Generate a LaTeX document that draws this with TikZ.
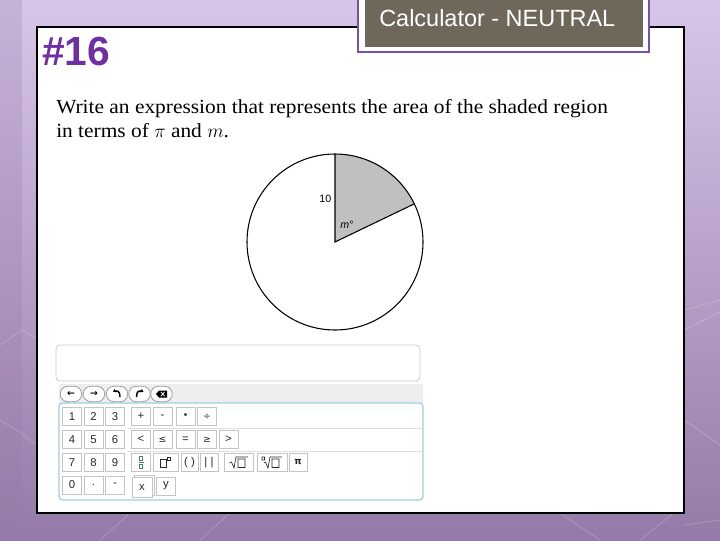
\documentclass[tikz,border=0pt]{standalone}
\usepackage{fontspec}
\setmainfont{Liberation Serif}
\newfontfamily\qfont[FakeStretch=1.07]{Liberation Serif}
\newfontfamily\arialf{Liberation Sans}
\newfontfamily\dejavuf{DejaVu Sans}
\usetikzlibrary{arrows.meta}
\definecolor{bgtop}{RGB}{216,198,232}
\definecolor{bgbot}{RGB}{148,122,168}
\definecolor{titlepurple}{RGB}{110,48,160}
\definecolor{calcborder}{RGB}{122,80,160}
\definecolor{calcgray}{RGB}{111,103,90}
\definecolor{sectorgray}{RGB}{192,192,192}
\definecolor{keygray}{RGB}{196,196,196}
\definecolor{keytext}{RGB}{40,40,40}
\definecolor{padblue}{RGB}{160,205,222}
\definecolor{stripgray}{RGB}{238,238,238}
\definecolor{sepgray}{RGB}{224,224,224}
\definecolor{fracgreen}{RGB}{70,130,120}
\tikzset{
  keybox/.style={draw=keygray, fill=white, line width=0.6pt, minimum width=14.25pt, minimum height=13.5pt, inner sep=0pt, text=keytext, font=\arialf\fontsize{8.5}{9}\selectfont},
  pill/.style={draw=keygray!80!black, fill=white, line width=0.6pt, rounded corners=5.5pt, minimum width=16pt, minimum height=11.5pt, inner sep=0pt, font=\dejavuf\bfseries\fontsize{7}{8}\selectfont},
  hexline/.style={white, opacity=0.18, line width=0.7pt}
}
\begin{document}
\begin{tikzpicture}[x=0.75pt,y=-0.75pt]
\useasboundingbox (0,0) rectangle (720,540);
% background
\shade[top color=bgtop, bottom color=bgbot] (0,0) rectangle (720,540);
\fill[bgbot, opacity=0.25] (0,0) rectangle (22,540);
\draw[hexline] (0,345) -- (22,330) -- (37,338);
\draw[hexline] (0,420) -- (20,432) -- (37,445);
\draw[hexline] (684,310) -- (720,300);
\draw[hexline] (684,420) -- (720,445);
\draw[hexline] (684,330) -- (720,312);
\draw[hexline] (684,525) -- (720,520);
\draw[hexline] (100,540) -- (130,513);
\draw[hexline] (200,540) -- (230,513);
\draw[hexline] (560,513) -- (600,540);
\draw[hexline] (640,540) -- (684,505);
% white panel
\filldraw[fill=white, draw=black, line width=1.1pt] (37,27) rectangle (684,513);
% title
\node[anchor=base west, inner sep=0pt, text=titlepurple, font=\arialf\bfseries\fontsize{30.5}{33}\selectfont] (title) at (42,65) {\#16};
% calculator box
\filldraw[fill=white, draw=calcborder, line width=1.5pt] (358,-5) rectangle (649,52);
\fill[calcgray] (365,-5) rectangle (643,47);
\node[anchor=base west, inner sep=0pt, text=white, font=\arialf\fontsize{17.6}{20}\selectfont] (calc) at (379,26) {Calculator - NEUTRAL};
% question
\node[anchor=base west, inner sep=0pt, font=\qfont\fontsize{15}{17}\selectfont] (q1) at (56,113) {Write an expression that represents the area of the shaded region};
\node[anchor=base west, inner sep=0pt, font=\qfont\fontsize{15}{17}\selectfont] (q2) at (56,137) {in terms of $\pi$ and $m$.};
% circle with sector
\coordinate (ctr) at (335,242);
\fill[sectorgray] (ctr) -- (335,154) arc[start angle=90, end angle=25.7, radius=66pt] -- cycle;
\draw[line width=0.8pt] (ctr) circle[radius=66pt];
\draw[line width=0.8pt] (335,154) -- (ctr) -- ++(25.7:66pt);
\node[anchor=east, inner sep=0pt, font=\arialf\fontsize{8}{9}\selectfont] (ten) at (331.5,199) {10};
\node[inner sep=0pt, font=\arialf\fontsize{8}{9}\selectfont] (mdeg) at (347,225) {\itshape m\upshape °};
% input box
\draw[draw=sepgray!90!black, line width=0.6pt, rounded corners=3pt, fill=white] (56,345) rectangle (420,381);
% toolbar strip
\fill[stripgray] (59,384) rectangle (423,404);
\node[pill] (left) at (71,394) {←};
\node[pill] (right) at (94,394) {→};
\node[pill] (undo) at (117,394) {};
\node[pill] (redo) at (139.5,394) {};
\node[pill] (del) at (161.5,394) {};
\draw[line width=1.1pt, -{Stealth[length=2.2pt,width=3pt]}] (120,397) .. controls (120,391) and (117,390) .. (113,391.5);
\draw[line width=1.1pt, -{Stealth[length=2.2pt,width=3pt]}] (136.5,397) .. controls (136.5,391) and (139.5,390) .. (143.5,391.5);
\fill[black] (156,394) -- (159,390.5) -- (167,390.5) -- (167,397.5) -- (159,397.5) -- cycle;
\draw[white, line width=0.6pt] (161,392) -- (164.5,396) (161,396) -- (164.5,392);
% keypad frame
\draw[padblue, line width=0.9pt, rounded corners=2.5pt, fill=white] (59,403) rectangle (423,500);
\draw[sepgray, line width=0.6pt] (128,428) -- (422,428) (128,451) -- (422,451);
% row 1
\node[keybox] (k1) at (72,416.5) {1};
\node[keybox] (k2) at (93.5,416.5) {2};
\node[keybox] (k3) at (115,416.5) {3};
\node[keybox] (kplus) at (141,416.5) {+};
\node[keybox] (kminus) at (162.5,416.5) {-};
\node[keybox] (kdot) at (185.5,416.5) {\dejavuf\fontsize{7}{8}\selectfont •};
\node[keybox] (kdiv) at (207,416.5) {\dejavuf\fontsize{7}{8}\selectfont ÷};
% row 2
\node[keybox] (k4) at (72,439.5) {4};
\node[keybox] (k5) at (93.5,439.5) {5};
\node[keybox] (k6) at (115,439.5) {6};
\node[keybox] (klt) at (141,439.5) {<};
\node[keybox] (kle) at (162.5,439.5) {\dejavuf\fontsize{7}{8}\selectfont ≤};
\node[keybox] (keq) at (185.5,439.5) {=};
\node[keybox] (kge) at (207,439.5) {\dejavuf\fontsize{7}{8}\selectfont ≥};
\node[keybox] (kgt) at (228.5,439.5) {>};
% row 3
\node[keybox] (k7) at (72,462.5) {7};
\node[keybox] (k8) at (93.5,462.5) {8};
\node[keybox] (k9) at (115,462.5) {9};
\node[keybox, minimum height=13pt] (kfrac) at (141,462.5) {};
\draw[fracgreen, line width=0.5pt] (139.3,456.5) rectangle (142.7,460.5) (138.5,462.5) -- (143.5,462.5) (139.3,464.5) rectangle (142.7,468.5);
\node[keybox, minimum width=18.75pt, minimum height=13pt] (kpow) at (165.5,462.5) {};
\draw[keytext, line width=0.5pt] (160,459) rectangle (166,467) (167.5,457) rectangle (170.5,460.5);
\node[keybox, minimum width=12.75pt, minimum height=13pt] (kpar) at (189.5,462.5) {( )};
\node[keybox, minimum width=13.5pt, minimum height=13pt] (kabs) at (209,462.5) {| |};
\node[keybox, minimum width=21.75pt, minimum height=13pt] (ksqrt) at (238.5,462.5) {};
\draw[keytext, line width=0.5pt] (229.5,463) -- (231.5,462) -- (234,468) -- (236,457) -- (248,457) (238,459) rectangle (245,467.5);
\node[keybox, minimum width=22.5pt, minimum height=13pt] (knrt) at (272,462.5) {};
\draw[keytext, line width=0.5pt] (262,457) rectangle (264.5,460) (264,463) -- (265.5,462) -- (268,468) -- (270,457) -- (282,457) (272,459) rectangle (279,467.5);
\node[keybox, minimum width=13.5pt, minimum height=13pt] (kpi) at (298,462.5) {\dejavuf\bfseries\fontsize{7}{8}\selectfont π};
% row 4
\node[keybox] (k0) at (72,485) {0};
\node[keybox] (kpt) at (93.5,485) {.};
\node[keybox] (kneg) at (115,485) {-};
\node[keybox, minimum width=15pt, minimum height=15pt] (kxb) at (144,485) {};
\node[keybox, minimum width=15pt, minimum height=15pt] (kx) at (142,487) {x};
\node[keybox, minimum height=13.5pt] (ky) at (166,486) {y};
\end{tikzpicture}
\end{document}
